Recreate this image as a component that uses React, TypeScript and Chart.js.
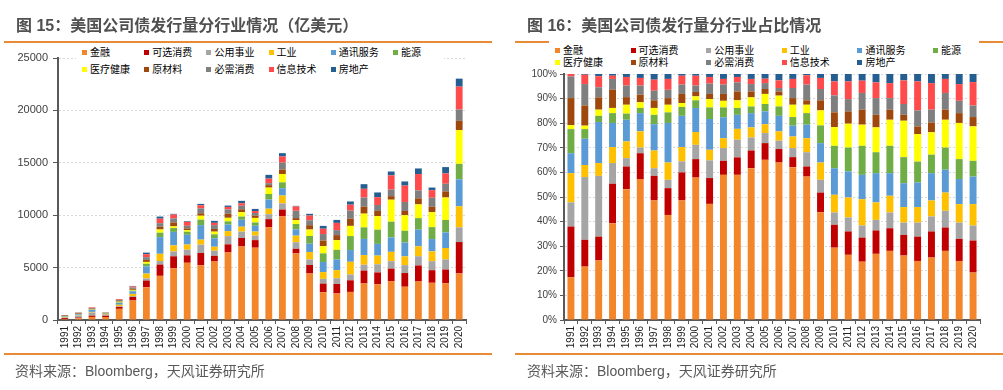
import React, { useEffect, useRef } from 'react';
import { Chart, registerables } from 'chart.js';

Chart.register(...registerables);

// ---------------- data ----------------
const years = ['1991','1992','1993','1994','1995','1996','1997','1998','1999','2000','2001','2002','2003','2004','2005','2006','2007','2008','2009','2010','2011','2012','2013','2014','2015','2016','2017','2018','2019','2020'];

// total issuance per year (亿美元), read from 图15
const totals = [480,730,1210,730,2000,3250,6430,9870,10130,9430,11080,9460,10920,11370,10600,13850,15920,10890,10130,8980,9550,11310,12960,12170,14170,13220,14460,12640,14590,23030];

const sectorNames = ['金融','可选消费','公用事业','工业','通讯服务','能源','医疗健康','原材料','必需消费','信息技术','房地产'];
const sectorColors = ['#F3862A','#C00000','#A5A5A5','#FFC000','#5B9BD5','#70AD47','#FFFF00','#9E480E','#7F7F7F','#FF4B4B','#255E91'];

// shares (%) read from 图16
const finance =       [17.4,21.7,24.2,39.3,53.2,57.3,48.6,42.7,48.6,57.9,47.2,59.0,59.0,61.7,65.1,64.0,62.1,58.3,43.8,29.4,26.5,23.7,26.9,28.1,26.2,24.0,25.4,28.1,24.0,19.3];
const consumerDisc =  [20.6,10.9,9.7,16.1,9.2,10.5,10.0,10.9,11.4,7.5,10.5,5.7,7.1,7.2,6.8,5.5,4.1,4.1,8.0,9.3,9.5,9.8,9.5,9.2,8.4,9.9,10.6,9.5,9.0,13.0];
const utilities =     [9.8,25.5,24.7,8.4,3.4,2.3,3.1,3.4,4.5,5.8,7.2,5.2,7.2,5.3,4.1,3.4,3.7,5.8,5.2,5.0,5.7,4.9,4.3,6.4,5.0,5.7,6.1,6.8,6.6,6.1];
const industrials =   [11.9,4.9,5.2,6.5,6.8,6.6,7.2,7.0,5.8,5.2,4.3,4.0,4.4,4.1,3.6,3.8,4.7,5.7,7.0,7.2,8.1,10.7,7.1,6.8,6.3,6.3,6.5,7.4,7.5,8.7];
const commServices =  [8.1,10.7,16.7,9.8,8.8,7.4,10.7,16.1,12.7,9.8,12.5,8.5,5.7,5.8,5.2,6.3,4.4,5.5,7.9,10.8,10.6,9.9,11.9,9.2,9.7,10.0,11.1,9.3,10.2,11.2];
const energy =        [9.8,3.9,2.5,4.0,2.5,2.1,3.8,4.3,3.6,3.1,4.7,4.0,2.8,2.7,3.0,3.8,3.5,4.7,7.2,9.1,9.7,11.8,8.5,11.1,10.6,8.5,7.5,9.0,8.1,6.4];
const healthCare =    [1.6,1.4,2.5,2.1,3.6,2.3,2.8,3.1,1.6,1.6,3.4,2.7,3.1,3.7,4.1,4.4,5.0,3.4,6.1,7.6,9.7,8.6,10.1,10.6,14.8,11.2,9.1,11.3,14.7,14.0];
const materials =     [11.0,8.2,5.0,7.4,3.1,3.1,3.1,2.7,3.7,1.8,2.1,2.8,3.6,2.4,2.0,1.7,2.7,1.8,4.1,6.0,5.0,6.1,5.1,4.1,2.4,3.1,4.0,4.1,4.0,3.8];
const staples =       [8.8,8.7,4.1,4.4,4.7,3.7,3.9,3.4,3.8,2.6,4.2,3.8,3.7,3.0,2.4,1.4,4.1,6.4,4.6,6.9,5.0,6.8,6.8,4.7,4.4,6.5,5.2,6.8,5.0,4.7];
const infoTech =      [1.0,3.8,4.5,1.3,3.5,3.1,4.5,4.4,3.6,4.0,2.7,2.3,2.2,2.1,1.8,3.1,3.7,3.8,4.5,5.7,7.2,5.0,6.4,6.1,9.6,11.8,10.8,5.7,6.8,9.5];
const realEstate =    [0.0,0.3,0.9,0.7,1.2,1.6,2.3,2.0,0.7,0.7,1.2,2.0,1.2,2.0,1.9,2.6,2.0,0.5,1.6,3.0,3.0,2.7,3.4,3.7,2.6,3.0,3.7,2.0,4.1,3.3];

const shares = [finance, consumerDisc, utilities, industrials, commServices, energy, healthCare, materials, staples, infoTech, realEstate];

const leftTicks = [0, 5000, 10000, 15000, 20000, 25000];
const rightTicks = [0,10,20,30,40,50,60,70,80,90,100];

const sourceText = '资料来源：Bloomberg，天风证券研究所';
const leftTitle = '图 15：美国公司债发行量分行业情况（亿美元）';
const rightTitle = '图 16：美国公司债发行量分行业占比情况';

// ---------------- styles ----------------
const ORANGE = '#E98A36';
const CJK = '"Liberation Sans", "Noto Sans CJK SC", "Noto Sans", sans-serif';
const LATIN = '"Liberation Sans", Arial, sans-serif';

function Legend(props: { left: number; top: number; colW: number; rowH: number; width: number; height: number }) {
  const { left, top, colW, rowH, width, height } = props;
  return (
    <div style={{ position: 'absolute', left, top, width, height, background: '#fff' }}>
      {sectorNames.map((n, i) => {
        const col = i % 6;
        const row = Math.floor(i / 6);
        return (
          <div key={n} style={{ position: 'absolute', left: 6 + col * colW, top: 3 + row * rowH, height: 12, display: 'flex', alignItems: 'center', whiteSpace: 'nowrap' }}>
            <span style={{ display: 'inline-block', width: 5, height: 5, background: sectorColors[i], marginRight: 3 }} />
            <span style={{ fontFamily: '"Noto Sans CJK SC", sans-serif', fontSize: 10, lineHeight: '12px', color: '#000' }}>{n}</span>
          </div>
        );
      })}
    </div>
  );
}

export default function App() {
  const leftRef = useRef<HTMLCanvasElement>(null);
  const rightRef = useRef<HTMLCanvasElement>(null);

  useEffect(() => {
    const sums = years.map((_, i) => shares.reduce((s, arr) => s + arr[i], 0));

    const leftDatasets = sectorNames.map((name, k) => ({
      label: name,
      data: shares[k].map((v, i) => (totals[i] * v) / sums[i]),
      backgroundColor: sectorColors[k],
      borderWidth: 0,
      categoryPercentage: 1,
      barPercentage: 0.5,
    }));
    const rightDatasets = sectorNames.map((name, k) => ({
      label: name,
      data: shares[k].map((v, i) => (v * 100) / sums[i]),
      backgroundColor: sectorColors[k],
      borderWidth: 0,
      categoryPercentage: 1,
      barPercentage: 0.5,
    }));

    const xScale = () => ({
      stacked: true,
      grid: { display: true, drawOnChartArea: false, drawTicks: true, tickLength: 4, tickColor: '#595959', offset: true },
      border: { display: true, color: '#595959', width: 2 },
      ticks: {
        autoSkip: false,
        minRotation: 90,
        maxRotation: 90,
        padding: 2,
        color: '#222',
        font: { family: LATIN, size: 10 },
      },
      afterFit: (s: any) => { s.height = 35; },
    });

    const left = new Chart(leftRef.current as HTMLCanvasElement, {
      type: 'bar',
      data: { labels: years, datasets: leftDatasets as any },
      options: {
        responsive: false,
        animation: false,
        layout: { padding: { left: 0, right: 34, top: 58, bottom: 35 } },
        plugins: { legend: { display: false }, tooltip: { enabled: false } },
        scales: {
          x: xScale() as any,
          y: {
            stacked: true,
            min: 0,
            max: 25000,
            afterBuildTicks: (s: any) => { s.ticks = leftTicks.map((v) => ({ value: v })); },
            grid: { color: '#D9D9D9', tickColor: '#595959', tickLength: 5, lineWidth: 1 },
            border: { display: true, color: '#595959', width: 2, dash: [2, 2] },
            ticks: { padding: 5, color: '#404040', font: { family: LATIN, size: 11 }, callback: (v: any) => String(v) },
            afterFit: (s: any) => { s.width = 58; },
          } as any,
        },
      },
    });

    const right = new Chart(rightRef.current as HTMLCanvasElement, {
      type: 'bar',
      data: { labels: years, datasets: rightDatasets as any },
      options: {
        responsive: false,
        animation: false,
        layout: { padding: { left: 0, right: 23, top: 74, bottom: 35 } },
        plugins: { legend: { display: false }, tooltip: { enabled: false } },
        scales: {
          x: xScale() as any,
          y: {
            stacked: true,
            min: 0,
            max: 100,
            afterBuildTicks: (s: any) => { s.ticks = rightTicks.map((v) => ({ value: v })); },
            grid: { color: '#D9D9D9', tickColor: '#595959', tickLength: 4, lineWidth: 1 },
            border: { display: true, color: '#595959', width: 2, dash: [2, 2] },
            ticks: { padding: 3, color: '#404040', font: { family: LATIN, size: 10 }, callback: (v: any) => v + '%' },
            afterFit: (s: any) => { s.width = 64; },
          } as any,
        },
      },
    });

    return () => {
      left.destroy();
      right.destroy();
    };
  }, []);

  const titleStyle: React.CSSProperties = {
    position: 'absolute', top: 15, fontFamily: CJK, fontWeight: 700, fontSize: 16, lineHeight: '22px', color: '#505050', whiteSpace: 'nowrap',
  };
  const srcStyle: React.CSSProperties = {
    position: 'absolute', top: 361, fontFamily: CJK, fontSize: 14, lineHeight: '20px', color: '#595959', whiteSpace: 'nowrap',
  };

  return (
    <div style={{ position: 'absolute', left: 0, top: 0, width: 1003, height: 390, background: '#fff', overflow: 'hidden' }}>
      <canvas ref={leftRef} width={500} height={390} style={{ position: 'absolute', left: 0, top: 0, width: 500, height: 390 }} />
      <canvas ref={rightRef} width={503} height={390} style={{ position: 'absolute', left: 500, top: 0, width: 503, height: 390 }} />

      <div style={{ ...titleStyle, left: 16 }}>{leftTitle}</div>
      <div style={{ ...titleStyle, left: 527 }}>{rightTitle}</div>

      <div style={{ position: 'absolute', left: 4, top: 41, width: 488, height: 1.5, background: ORANGE }} />
      <div style={{ position: 'absolute', left: 515, top: 41, width: 488, height: 1.5, background: ORANGE }} />
      <div style={{ position: 'absolute', left: 4, top: 353, width: 488, height: 1.5, background: ORANGE }} />
      <div style={{ position: 'absolute', left: 515, top: 353, width: 488, height: 1.5, background: ORANGE }} />

      <Legend left={76} top={43} colW={62.2} rowH={17.3} width={368} height={33} />
      <Legend left={549} top={41} colW={75.6} rowH={12} width={430} height={29} />

      <div style={{ ...srcStyle, left: 15 }}>{sourceText}</div>
      <div style={{ ...srcStyle, left: 527 }}>{sourceText}</div>
    </div>
  );
}
